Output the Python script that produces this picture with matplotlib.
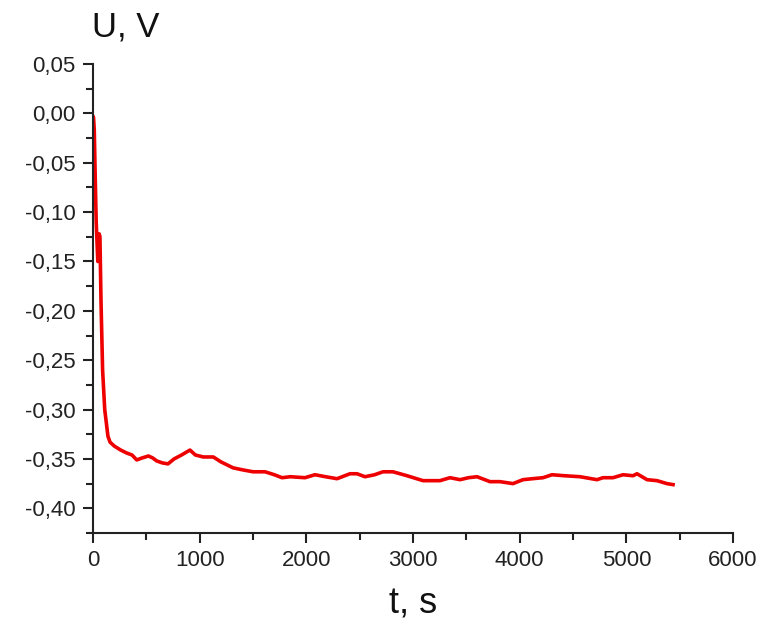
import matplotlib.pyplot as plt
from matplotlib.ticker import MultipleLocator, FuncFormatter

plt.rcParams['font.family'] = ['Liberation Sans', 'DejaVu Sans']

# values (time in s, voltage in V)
t = [0, 5, 12, 20, 30, 45, 52, 58, 65, 75, 90, 110, 140, 160, 200, 260, 316, 366,
     410, 460, 520, 560, 597, 650, 703, 760, 830, 909, 960, 1034, 1128, 1200, 1313,
     1400, 1500, 1613, 1700, 1772, 1850, 1987, 2081, 2180, 2288, 2409, 2475, 2550,
     2640, 2719, 2812, 2944, 3094, 3253, 3347, 3441, 3520, 3600, 3722, 3816, 3937,
     4031, 4120, 4219, 4303, 4420, 4566, 4725, 4781, 4875, 4969, 5063, 5100, 5194,
     5288, 5381, 5438]
u = [-0.003, -0.004, -0.017, -0.06, -0.11, -0.15, -0.148, -0.122, -0.125, -0.19,
     -0.26, -0.30, -0.327, -0.333, -0.337, -0.341, -0.344, -0.346, -0.351, -0.349,
     -0.347, -0.349, -0.352, -0.354, -0.355, -0.350, -0.346, -0.341, -0.346, -0.348,
     -0.348, -0.353, -0.359, -0.361, -0.363, -0.363, -0.366, -0.369, -0.368, -0.369,
     -0.366, -0.368, -0.370, -0.365, -0.365, -0.368, -0.366, -0.363, -0.363, -0.367,
     -0.372, -0.372, -0.369, -0.371, -0.369, -0.368, -0.373, -0.373, -0.375, -0.371,
     -0.370, -0.369, -0.366, -0.367, -0.368, -0.371, -0.369, -0.369, -0.366, -0.367,
     -0.365, -0.371, -0.372, -0.375, -0.376]

x_ticks = [0, 1000, 2000, 3000, 4000, 5000, 6000]


def comma_fmt(v, pos):
    s = '%.2f' % v
    if s == '-0.00':
        s = '0.00'
    return s.replace('.', ',')


def main():
    fig = plt.figure(figsize=(7.77, 6.28), dpi=100)
    ax = fig.add_axes([93 / 777, 95 / 628, 640 / 777, 469 / 628])

    ax.plot(t, u, color='#ee0000', linewidth=2.6, solid_joinstyle='round')

    ax.set_xlim(0, 6000)
    ax.set_ylim(-0.425, 0.05)
    ax.set_xticks(x_ticks)
    ax.xaxis.set_minor_locator(MultipleLocator(500))
    ax.yaxis.set_major_locator(MultipleLocator(0.05))
    ax.yaxis.set_minor_locator(MultipleLocator(0.025))
    ax.yaxis.set_major_formatter(FuncFormatter(comma_fmt))

    ax.spines['top'].set_visible(False)
    ax.spines['right'].set_visible(False)
    for s in ['left', 'bottom']:
        ax.spines[s].set_linewidth(1.5)
        ax.spines[s].set_color('#222222')

    ax.tick_params(which='major', direction='out', length=7.5, width=1.5,
                   labelsize=16, colors='#222222', pad=5)
    ax.tick_params(which='minor', direction='out', length=5, width=1.5, colors='#222222')

    fig.text(92 / 777, 1 - 27 / 628, 'U, V', fontsize=25, ha='left', va='center', color='#111111')
    fig.text(413 / 777, 1 - 604 / 628, 't, s', fontsize=26, ha='center', va='center', color='#111111')

    fig.savefig('out.png', dpi=100)


if __name__ == "__main__":
    main()
